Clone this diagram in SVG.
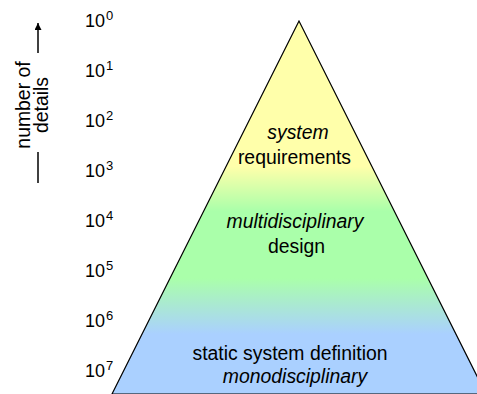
<svg xmlns="http://www.w3.org/2000/svg" width="477" height="394" viewBox="0 0 477 394">
<defs>
<linearGradient id="fill" gradientUnits="userSpaceOnUse" x1="0" y1="21" x2="0" y2="394">
<stop offset="0" stop-color="#ffffaa"/>
<stop offset="0.39" stop-color="#ffffaa"/>
<stop offset="0.51" stop-color="#aaffaa"/>
<stop offset="0.69" stop-color="#aaffaa"/>
<stop offset="0.84" stop-color="#aad0ff"/>
<stop offset="1" stop-color="#aad0ff"/>
</linearGradient>
<marker id="ah" viewBox="0 0 10 10" refX="10" refY="5" markerWidth="10" markerHeight="7" markerUnits="userSpaceOnUse" orient="auto">
<path d="M0,0 L10,5 L0,10 z" fill="#000"/>
</marker>
</defs>
<style>
text{font-family:"Liberation Sans",Arial,Helvetica,sans-serif;fill:#000}
.n{font-size:18px}
.s{font-size:13px}
.l{font-size:19.4px;text-anchor:middle}
.i{font-style:italic}
.ax{stroke:#000;stroke-width:1.5;fill:none}
</style>
<g id="pyramid">
<polygon points="299,21 112,394 486,394" fill="url(#fill)" stroke="#000" stroke-width="1.2"/>
</g>
<g id="scale">
<text class="n" x="85" y="27">10</text><text class="s" x="106" y="20">0</text>
<text class="n" x="85" y="77">10</text><text class="s" x="106" y="70">1</text>
<text class="n" x="85" y="127">10</text><text class="s" x="106" y="120">2</text>
<text class="n" x="85" y="177">10</text><text class="s" x="106" y="170">3</text>
<text class="n" x="85" y="227">10</text><text class="s" x="106" y="220">4</text>
<text class="n" x="85" y="277">10</text><text class="s" x="106" y="270">5</text>
<text class="n" x="85" y="327">10</text><text class="s" x="106" y="320">6</text>
<text class="n" x="85" y="377">10</text><text class="s" x="106" y="370">7</text>
</g>
<g id="axis">
<line class="ax" x1="38" y1="53" x2="38" y2="23" marker-end="url(#ah)"/>
<line class="ax" x1="38" y1="152" x2="38" y2="183"/>
<text class="l" transform="translate(30,105) rotate(-90)">number of</text>
<text class="l" transform="translate(48,105) rotate(-90)">details</text>
</g>
<g id="level-system">
<text class="l i" x="298" y="139">system</text>
<text class="l" x="294.5" y="164">requirements</text>
</g>
<g id="level-design">
<text class="l i" x="295" y="228">multidisciplinary</text>
<text class="l" x="296.5" y="253">design</text>
</g>
<g id="level-mono">
<text class="l" x="290" y="360">static system definition</text>
<text class="l i" x="295" y="383">monodisciplinary</text>
</g>
</svg>
